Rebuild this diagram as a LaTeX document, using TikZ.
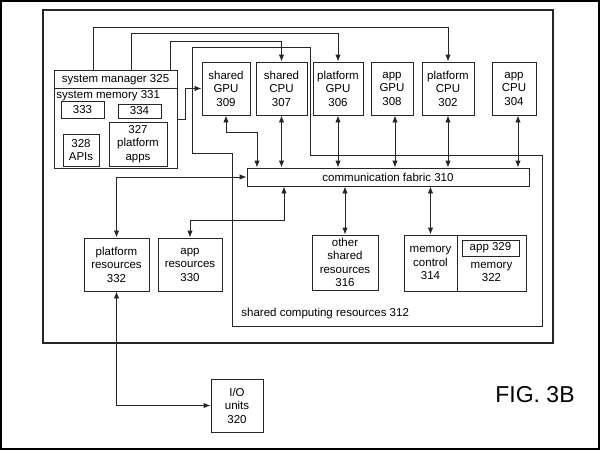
\documentclass[tikz,border=0pt]{standalone}
\usepackage{fontspec}
\setmainfont{Liberation Sans}
\usetikzlibrary{arrows.meta}

\begin{document}
\begin{tikzpicture}[x=1pt, y=-1pt, line width=0.9pt, draw=black!85,
        txt/.style={inner sep=0pt, align=center, font=\fontsize{11.5}{13.5}\selectfont},
        box/.style={txt, draw},
        topbox/.style={box, minimum height=53pt},
        wire/.style={-{Latex[length=7pt,width=5.5pt]}},
        both/.style={{Latex[length=7pt,width=5.5pt]}-{Latex[length=7pt,width=5.5pt]}}]
        \useasboundingbox (0,0) rectangle (600,450);
        \draw[line width=2pt, black] (1,1) rectangle (599,449);
        \draw[line width=1.2pt] (43,10) rectangle (553,343);
        % shared computing resources 312
        \draw (192,47) -- (310,47) -- (310,155) -- (542,155) -- (542,326)
            -- (232,326) -- (232,153) -- (192,153) -- cycle;
        \node[txt, anchor=west] (shrlbl) at (241,314) {shared computing resources 312};
        % system manager
        \node[box, minimum width=123pt, minimum height=98pt] (sysmgr) at (115.5,119) {};
        \draw (sysmgr.west |- 0,88) -- (sysmgr.east |- 0,88);
        \node[txt] (mgrtxt) at (115.5,79.5) {system manager 325};
        \node[txt, anchor=west] (memtxt) at (56,96) {system memory 331};
        \node[box, minimum width=43pt, minimum height=17pt] (m333) at (82.5,109.5) {333};
        \node[box, minimum width=43pt, minimum height=14pt] (m334) at (139.5,111) {334};
        \node[box, minimum width=36pt, minimum height=32pt] (apis) at (81,150) {328\\APIs};
        \node[box, minimum width=58pt, minimum height=44pt] (papps) at (138,144) {327\\platform\\apps};
        % processors
        \node[topbox, minimum width=48pt] (gpuS) at (226,88.5) {shared\\GPU\\309};
        \node[topbox, minimum width=51pt] (cpuS) at (281.5,88.5) {shared\\CPU\\307};
        \node[topbox, minimum width=50pt] (gpuP) at (338,88.5) {platform\\GPU\\306};
        \node[topbox, minimum width=42pt] (gpuA) at (392,88.5) {app\\GPU\\308};
        \node[topbox, minimum width=52pt] (cpuP) at (448,88.5) {platform\\CPU\\302};
        \node[topbox, minimum width=44pt] (cpuA) at (514,88.5) {app\\CPU\\304};
        \node[box, minimum width=282pt, minimum height=18pt] (fabric) at (388,177) {communication fabric 310};
        % resources
        \node[box, minimum width=65pt, minimum height=53pt] (resP) at (116.5,264.5) {platform\\resources\\332};
        \node[box, minimum width=64pt, minimum height=53pt] (resA) at (190,264.5) {app\\resources\\330};
        \node[box, minimum width=66pt, minimum height=55pt] (other) at (345,262.5) {other\\shared\\resources\\316};
        \node[box, minimum width=53pt, minimum height=56pt] (memctl) at (430.5,263) {memory\\control\\314};
        \node[box, minimum width=69pt, minimum height=56pt] (mem) at (491.5,263) {};
        \node[box, minimum width=57pt, minimum height=16pt] (app329) at (490.5,248) {app 329};
        \node[txt] (memlbl) at (491.5,272) {memory\\322};
        \node[box, minimum width=52pt, minimum height=53pt] (io) at (237,405.5) {I/O\\units\\320};
        \node[txt, font=\fontsize{23}{26}\selectfont] (fig) at (535,395) {FIG. 3B};
        % connectors from the system manager
        \draw[wire] (sysmgr.north -| 93,0) -- (93,27) -| (cpuP.north);
        \draw[wire] (sysmgr.north -| 131,0) -- (131,33) -| (gpuP.north);
        \draw[wire] (sysmgr.north -| 170,0) -- (170,41) -| (cpuS.north);
        \draw[wire] (sysmgr.east) -- ++(8,0) |- (gpuS.west);
        % processors to fabric
        \draw[both] (gpuS.south) -- ++(0,17) -| (fabric.north -| 257,0);
        \draw[both] (cpuS.south) -- (cpuS.south |- fabric.north);
        \draw[both] (gpuP.south) -- (gpuP.south |- fabric.north);
        \draw[both] ([xshift=3pt]gpuA.south) -- ([xshift=3pt]gpuA.south |- fabric.north);
        \draw[both] (cpuP.south) -- (cpuP.south |- fabric.north);
        \draw[both] ([xshift=4pt]cpuA.south) -- ([xshift=4pt]cpuA.south |- fabric.north);
        % fabric to resources
        \draw[both] (fabric.west) -| (resP.north);
        \draw[both] (fabric.south -| 284,0) -- (284,220) -| (resA.north);
        \draw[both] (fabric.south -| other.north) -- (other.north);
        \draw[both] (fabric.south -| memctl.north) -- (memctl.north);
        \draw[both] (resP.south) |- (io.west);
\end{tikzpicture}
\end{document}
